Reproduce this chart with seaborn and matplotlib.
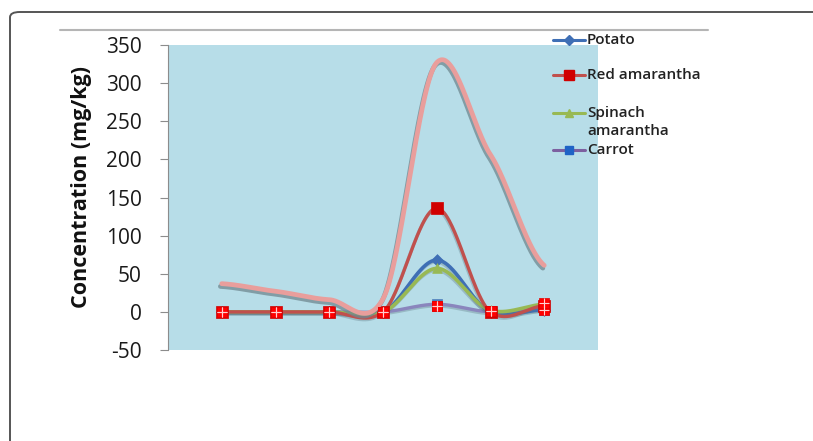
import numpy as np
import matplotlib
matplotlib.use("Agg")
import matplotlib.pyplot as plt
import matplotlib.patheffects as pe
from matplotlib.lines import Line2D
from matplotlib.patches import FancyBboxPatch
import seaborn as sns

# Sampling points (7 categories along the x axis, no labels shown)
positions = [1, 2, 3, 4, 5, 6, 7]

potato = [0, 0, 0, 0, 68, 0, 3]
red_amarantha = [0, 0, 0, 0, 136, 0, 8]
spinach_amarantha = [0, 0, 0, 0, 57, 2, 10]
carrot = [0, 0, 0, 0, 10, 0, 3]
total = [37, 27, 16, 17, 327, 206, 61]
reference_a = [0, 0, 0, 0, 8, 1, 2]
reference_b = [0, 0, 0, 0, 8, 1, 11]

y_ticks = [-50, 0, 50, 100, 150, 200, 250, 300, 350]
legend_labels = ["Potato", "Red amarantha", "Spinach\namarantha", "Carrot"]

W, H = 813, 441
sns.set_theme(style="white")
plt.rcParams["font.family"] = ["Open Sans", "DejaVu Sans"]

fig = plt.figure(figsize=(W / 100, H / 100), dpi=100)
ax = fig.add_axes([168 / W, 1 - 350 / H, (598 - 168) / W, (350 - 45) / H])
ax.set_facecolor("#b7dde8")


def smooth(vals, n=60, tension=0.4):
    """Cardinal-spline curve through the points, like a smoothed line chart."""
    y = np.asarray(vals, dtype=float)
    x = np.arange(1, len(y) + 1, dtype=float)
    m = np.zeros_like(y)
    m[1:-1] = tension * (y[2:] - y[:-2])
    m[0] = tension * (y[1] - y[0])
    m[-1] = tension * (y[-1] - y[-2])
    xs, ys = [], []
    for i in range(len(y) - 1):
        t = np.linspace(0, 1, n, endpoint=(i == len(y) - 2))
        h00 = 2 * t**3 - 3 * t**2 + 1
        h10 = t**3 - 2 * t**2 + t
        h01 = -2 * t**3 + 3 * t**2
        h11 = t**3 - t**2
        xs.append(x[i] + t)
        ys.append(h00 * y[i] + h10 * m[i] + h01 * y[i + 1] + h11 * m[i + 1])
    return np.concatenate(xs), np.concatenate(ys)


shadow = [pe.SimpleLineShadow(offset=(-0.6, -1.2), shadow_color="#5f7a85", alpha=0.35), pe.Normal()]

series = [
    (carrot, "#8a86bd", 2.4, "s", "#4f81bd", 7),
    (potato, "#3f6fb5", 2.6, "D", "#3f6fb5", 6),
    (spinach_amarantha, "#98b954", 2.6, "^", "#98b954", 7),
    (red_amarantha, "#c0504d", 2.4, "s", "#d00000", 9),
]
for vals, lc, lw, mk, mc, ms in series:
    sx, sy = smooth(vals)
    sns.lineplot(x=sx, y=sy, ax=ax, color=lc, lw=lw, sort=False, estimator=None,
                 zorder=3, path_effects=shadow)
    sns.scatterplot(x=positions, y=vals, ax=ax, marker=mk, s=ms**2, color=mc,
                    edgecolor=mc, linewidth=0.5, zorder=4)

# Total concentration curve (thick salmon line with drop shadow)
sx, sy = smooth(total)
sns.lineplot(x=sx, y=sy, ax=ax, color="#e99e9c", lw=3.4, sort=False, estimator=None, zorder=5,
             path_effects=[pe.SimpleLineShadow(offset=(-1.0, -2.0), shadow_color="#6f8890", alpha=0.75),
                           pe.Normal()])

# Reference markers: red squares with a white cross
for vals in (reference_a, reference_b):
    sns.scatterplot(x=positions, y=vals, ax=ax, marker="s", s=56, color="#ff0000",
                    edgecolor="#e00000", linewidth=0.5, zorder=6)
    ax.scatter(positions, vals, marker="+", s=52, color="#ffd0d0", linewidths=0.8, zorder=7)

ax.set_xlim(0, 8)
ax.set_ylim(-50, 350)
ax.set_yticks(y_ticks)
ax.set_yticklabels([str(v) for v in y_ticks], fontsize=15, color="#1a1a1a")
ax.set_xticks([])
ax.tick_params(axis="y", direction="out", length=6, width=0.8, color="#8c8c8c", pad=13, left=True)
for side in ("top", "right", "bottom"):
    ax.spines[side].set_visible(False)
ax.spines["left"].set_color("#8c8c8c")
ax.spines["left"].set_linewidth(0.8)
ax.set_ylabel("Concentration (mg/kg)", fontsize=15.5, fontweight="bold", color="#111111")
ax.yaxis.set_label_coords(-0.176, 0.535)


def fx(px):
    return px / W


def fy(py):
    return 1 - py / H


# Legend at the right edge of the plot area
legend_rows = [
    ("#3f6fb5", "D", "#3f6fb5", 5, 40),
    ("#c0504d", "s", "#d00000", 7, 75),
    ("#98b954", "^", "#98b954", 6, 113),
    ("#7d60a0", "s", "#1f63c6", 6, 150),
]
for (lc, mk, mc, ms, ly), label in zip(legend_rows, legend_labels):
    fig.add_artist(Line2D([fx(553), fx(585)], [fy(ly), fy(ly)], color=lc, lw=2.2,
                          transform=fig.transFigure, zorder=10))
    fig.add_artist(Line2D([fx(569)], [fy(ly)], marker=mk, markersize=ms, color=mc,
                          markeredgecolor=mc, transform=fig.transFigure, zorder=11))
    for k, part in enumerate(label.split("\n")):
        fig.text(fx(587), fy(ly + 18 * k), part, fontsize=11, fontweight="semibold",
                 color="#222222", va="center", ha="left")

# Chart frame: outer rounded border and the thin rule above the plot
fig.add_artist(FancyBboxPatch((fx(10), fy(470)), fx(840) - fx(10), fy(12) - fy(470),
                              boxstyle="round,pad=0,rounding_size=0.012",
                              transform=fig.transFigure, fill=False,
                              edgecolor="#555555", lw=1.4, zorder=20))
fig.add_artist(Line2D([fx(60), fx(708)], [fy(30), fy(30)], color="#b5b5b5", lw=1.5,
                      transform=fig.transFigure, zorder=20))

fig.savefig("out.png", dpi=100)
